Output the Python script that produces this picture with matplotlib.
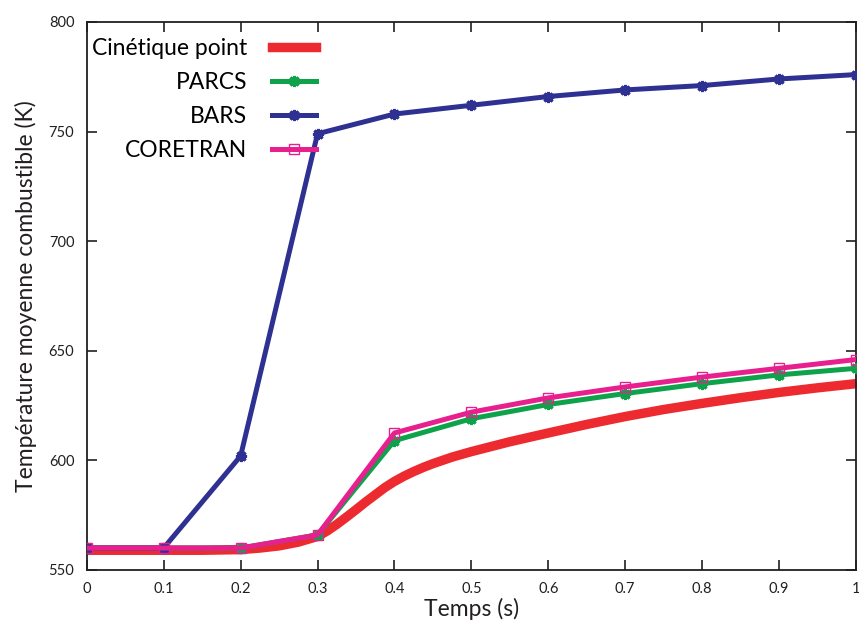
"""Mean fuel temperature during the transient: point kinetics vs PARCS, BARS, CORETRAN."""

import matplotlib

matplotlib.use("Agg")
import matplotlib.pyplot as plt

plt.rcParams["font.family"] = ["Lato", "DejaVu Sans"]

# --- data ------------------------------------------------------------------
t_codes = [0.0, 0.1, 0.2, 0.3, 0.4, 0.5, 0.6, 0.7, 0.8, 0.9, 1.0]
parcs = [560, 560, 560, 566, 609, 619, 625.5, 630.5, 635, 639, 642]
bars = [560, 560, 602, 749, 758, 762, 766, 769, 771, 774, 776]
coretran = [560, 560, 560, 566, 612.5, 622, 628.5, 633.5, 638, 642, 646]

# point kinetics is a dense, smooth curve
t_point = [0.0, 0.05, 0.1, 0.15, 0.2, 0.225, 0.25, 0.275, 0.3, 0.3125,
           0.325, 0.3375, 0.35, 0.3625, 0.375, 0.3875, 0.4, 0.4125, 0.425,
           0.4375, 0.45, 0.475, 0.5, 0.55, 0.6, 0.65, 0.7, 0.75, 0.8, 0.85,
           0.9, 0.95, 1.0]
point = [559, 559, 559, 559, 559.3, 560, 561, 562.7, 565.3, 567.8,
         570.8, 574.1, 577.5, 581.0, 584.3, 587.6, 590.4, 592.8, 594.9,
         596.8, 598.5, 601.5, 604, 608.5, 612.5, 616.4, 620, 623.2, 626,
         628.6, 631, 633.1, 635]

RED = "#ec2a2f"
GREEN = "#0ea24b"
BLUE = "#2e3192"
PINK = "#e81f8e"
INK = "#231f20"

fig = plt.figure(figsize=(8.59, 6.28), dpi=100)
ax = fig.add_axes([0.101, 0.0924, 0.8955, 0.8726])

ax.plot(t_point, point, color=RED, lw=6.8, solid_joinstyle="round",
        marker="+", ms=5, mew=1, markevery=[len(t_point) - 1],
        label="Cinétique point", zorder=2)
ax.plot(t_codes, parcs, color=GREEN, lw=3.6, marker=(8, 2, 0), ms=8, mew=2.2,
        label="PARCS", zorder=3)
ax.plot(t_codes, bars, color=BLUE, lw=3.6, marker=(8, 2, 0), ms=8, mew=2.2,
        label="BARS", zorder=4)
ax.plot(t_codes, coretran, color=PINK, lw=3.6, marker="s", ms=7, mew=1,
        mfc="none", label="CORETRAN", zorder=5)

ax.set_xlim(0, 1)
ax.set_ylim(550, 800)
ax.set_xticks([i / 10 for i in range(11)])
ax.set_xticklabels(["0"] + [f"0.{i}" for i in range(1, 10)] + ["1"])
ax.set_yticks(range(550, 801, 50))

ax.tick_params(direction="in", length=7, width=1.2, top=True, right=True,
               labelsize=10.5, colors=INK, pad=9)
for side in ax.spines.values():
    side.set_linewidth(1.3)
    side.set_color(INK)

ax.set_xlabel("Temps (s)", fontsize=16.5, color=INK, labelpad=1)
ax.set_ylabel("Température moyenne combustible (K)", fontsize=16.5,
              color=INK, labelpad=8)

# gnuplot-style key: labels right-aligned against the line samples
ax.legend(loc="upper left", bbox_to_anchor=(-0.004, 0.985), markerfirst=False,
          frameon=False, fontsize=16.5, handlelength=1.9, labelspacing=0.56,
          borderaxespad=0.15, handletextpad=1.1, borderpad=0.2)

fig.savefig("out.png", dpi=100)
